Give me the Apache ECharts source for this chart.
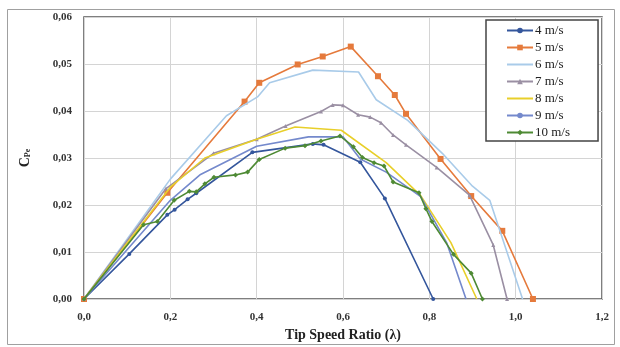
<!DOCTYPE html>
<html><head><meta charset="utf-8">
<script src="https://cdn.jsdelivr.net/npm/echarts@6/dist/echarts.min.js"></script>
<style>html,body{margin:0;padding:0;background:#fff}#c{width:620px;height:347px}</style>
</head><body><div id="c"></div>
<script>
const seriesNames = ['4 m/s','5 m/s','6 m/s','7 m/s','8 m/s','9 m/s','10 m/s'];
const xTicks = ['0,0','0,2','0,4','0,6','0,8','1,0','1,2'];
const yTicks = ['0,00','0,01','0,02','0,03','0,04','0,05','0,06'];

const x4 = [0, 0.105, 0.193, 0.21, 0.24, 0.26, 0.39, 0.53, 0.555, 0.64, 0.697, 0.809];
const y4 = [0, 0.0096, 0.0179, 0.019, 0.0212, 0.0225, 0.0312, 0.033, 0.0328, 0.0291, 0.0214, 0];

const x5 = [0, 0.193, 0.372, 0.406, 0.495, 0.553, 0.618, 0.681, 0.72, 0.746, 0.826, 0.897, 0.969, 1.04];
const y5 = [0, 0.0226, 0.042, 0.046, 0.0499, 0.0516, 0.0537, 0.0474, 0.0434, 0.0394, 0.0298, 0.0219, 0.0145, 0];

const x6 = [0, 0.2, 0.33, 0.402, 0.43, 0.53, 0.636, 0.677, 0.75, 0.83, 0.9, 0.94, 1.016];
const y6 = [0, 0.0255, 0.039, 0.043, 0.046, 0.0487, 0.0483, 0.0424, 0.038, 0.031, 0.024, 0.021, 0];

const x7 = [0, 0.19, 0.3, 0.4, 0.467, 0.549, 0.576, 0.6, 0.635, 0.663, 0.688, 0.716, 0.746, 0.817, 0.893, 0.948, 0.98];
const y7 = [0, 0.0235, 0.031, 0.034, 0.0368, 0.0399, 0.0413, 0.0412, 0.0392, 0.0387, 0.0375, 0.0349, 0.0328, 0.028, 0.0221, 0.0115, 0];

const x8 = [0, 0.2, 0.28, 0.4, 0.489, 0.596, 0.7, 0.78, 0.85, 0.91];
const y8 = [0, 0.0238, 0.0300, 0.0340, 0.0366, 0.0359, 0.029, 0.022, 0.012, 0];

const x9 = [0, 0.2, 0.27, 0.4, 0.52, 0.6, 0.64, 0.7, 0.78, 0.84, 0.885];
const y9 = [0, 0.021, 0.0265, 0.0325, 0.0345, 0.0345, 0.0298, 0.027, 0.0218, 0.012, 0];

const x10 = [0, 0.138, 0.17, 0.209, 0.244, 0.26, 0.28, 0.301, 0.351, 0.379, 0.406, 0.466, 0.512, 0.549, 0.593, 0.624, 0.645, 0.672, 0.695, 0.716, 0.776, 0.792, 0.806, 0.856, 0.897, 0.923];
const y10 = [0, 0.0158, 0.0165, 0.021, 0.0229, 0.0228, 0.0245, 0.0259, 0.0264, 0.027, 0.0297, 0.0321, 0.0326, 0.0336, 0.0347, 0.0324, 0.0301, 0.029, 0.0283, 0.0249, 0.0226, 0.0192, 0.0165, 0.0095, 0.0055, 0];

const xs = [x4, x5, x6, x7, x8, x9, x10];
const ys = [y4, y5, y6, y7, y8, y9, y10];
const colors = ['#34569c', '#e57a3c', '#a9cbe9', '#9a8fa3', '#e8cf2a', '#7489cc', '#4e8a34'];
const symbols = ['circle', 'rect', 'none', 'triangle', 'none', 'circle', 'diamond'];
const showSym = [true, true, false, true, false, false, true];
const symSizes = [4, 6, 0, 4, 0, 3, 5];

const font = '"Liberation Serif", "Times New Roman", serif';
const chart = echarts.init(document.getElementById('c'), null, {renderer: 'canvas'});

const series = seriesNames.map((n, i) => ({
  name: n,
  type: 'line',
  data: xs[i].map((x, j) => [x, ys[i][j]]),
  symbol: symbols[i],
  showSymbol: showSym[i],
  symbolSize: symSizes[i],
  itemStyle: {color: colors[i]},
  lineStyle: {color: colors[i], width: 1.6},
  animation: false,
  z: 2 + i
}));

chart.setOption({
  animation: false,
  backgroundColor: '#fff',
  graphic: [{type: 'rect', left: 5, top: 7, shape: {width: 607, height: 335}, style: {fill: 'none', stroke: '#a0a0a0', lineWidth: 1}, silent: true}],
  grid: {left: 84, right: 18, top: 17, bottom: 45, show: true, borderColor: '#555', borderWidth: 1.5, backgroundColor: 'transparent'},
  legend: {
    orient: 'vertical', left: 486, top: 20,
    data: seriesNames.map((n, i) => symbols[i] === 'none' ? {name: n, itemStyle: {opacity: 0}} : {name: n}),
    itemWidth: 26, itemHeight: 7, itemGap: 4,
    backgroundColor: '#fff', borderColor: '#444', borderWidth: 1.5,
    padding: [4, 28, 2, 20],
    textStyle: {fontFamily: font, fontSize: 13, lineHeight: 13, color: '#222', padding: [0, 0, 0, -3]}
  },
  xAxis: {
    type: 'value', min: 0, max: 1.2, interval: 0.2,
    name: 'Tip Speed Ratio (λ)', nameLocation: 'middle', nameGap: 29,
    nameTextStyle: {fontFamily: font, fontWeight: 'bold', fontSize: 14, color: '#222'},
    axisLine: {show: false}, axisTick: {show: false},
    splitLine: {show: true, lineStyle: {color: '#d4d4d4', width: 1}},
    axisLabel: {fontFamily: font, fontWeight: 'bold', fontSize: 11, color: '#333', margin: 13,
      formatter: v => xTicks[Math.round(v / 0.2)]}
  },
  yAxis: {
    type: 'value', min: 0, max: 0.06, interval: 0.01,
    name: '{c|C}{s|Pe}', nameLocation: 'middle', nameGap: 52, nameRotate: 90,
    nameTextStyle: {rich: {
      c: {fontFamily: font, fontWeight: 'bold', fontSize: 14, color: '#222'},
      s: {fontFamily: font, fontWeight: 'bold', fontSize: 8, color: '#222', verticalAlign: 'bottom', padding: [6, 0, 0, 0]}
    }},
    axisLine: {show: false}, axisTick: {show: false},
    splitLine: {show: true, lineStyle: {color: '#d4d4d4', width: 1}},
    axisLabel: {fontFamily: font, fontWeight: 'bold', fontSize: 11, color: '#333', margin: 12,
      formatter: v => yTicks[Math.round(v / 0.01)]}
  },
  series: series
});
</script></body></html>
